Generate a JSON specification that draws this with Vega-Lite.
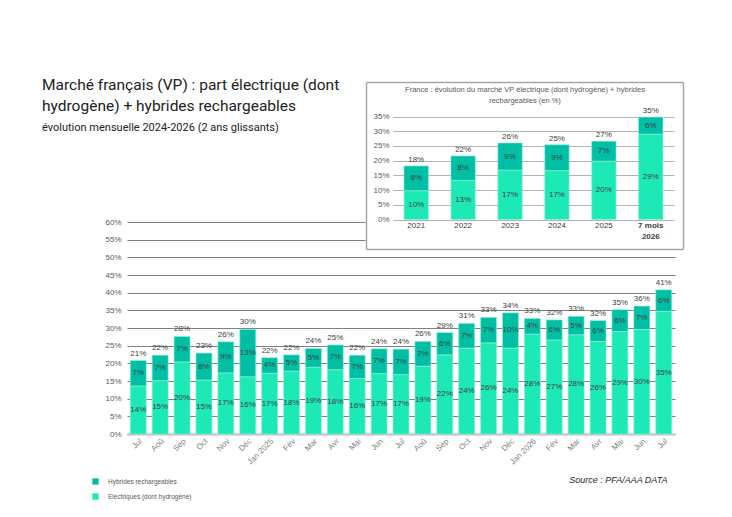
{
  "$schema": "https://vega.github.io/schema/vega-lite/v6.json",
  "width": 548,
  "height": 212,
  "autosize": {"type": "none"},
  "padding": {"left": 127, "top": 222, "right": 57, "bottom": 83},
  "background": "white",
  "title": {
    "text": ["Marché français (VP) : part électrique (dont", "hydrogène) + hybrides rechargeables"],
    "subtitle": "évolution mensuelle 2024-2026 (2 ans glissants)",
    "anchor": "start",
    "frame": "group",
    "dx": -85,
    "dy": 55,
    "font": "Roboto",
    "fontSize": 15.5,
    "fontWeight": "normal",
    "color": "#222222",
    "lineHeight": 21,
    "subtitleFont": "Roboto",
    "subtitleFontSize": 11,
    "subtitleColor": "#222222",
    "subtitlePadding": 8
  },
  "datasets": {
    "mensuel": [
      {"mois": "Jul 2024", "elec": 0.136, "hyb": 0.072},
      {"mois": "Aoû 2024", "elec": 0.151, "hyb": 0.072},
      {"mois": "Sep 2024", "elec": 0.204, "hyb": 0.072},
      {"mois": "Oct 2024", "elec": 0.153, "hyb": 0.076},
      {"mois": "Nov 2024", "elec": 0.173, "hyb": 0.088},
      {"mois": "Déc 2024", "elec": 0.162, "hyb": 0.134},
      {"mois": "Jan 2025", "elec": 0.172, "hyb": 0.044},
      {"mois": "Fév 2025", "elec": 0.178, "hyb": 0.046},
      {"mois": "Mar 2025", "elec": 0.189, "hyb": 0.053},
      {"mois": "Avr 2025", "elec": 0.182, "hyb": 0.07},
      {"mois": "Mai 2025", "elec": 0.157, "hyb": 0.066},
      {"mois": "Jun 2025", "elec": 0.171, "hyb": 0.07},
      {"mois": "Jul 2025", "elec": 0.168, "hyb": 0.072},
      {"mois": "Aoû 2025", "elec": 0.192, "hyb": 0.07},
      {"mois": "Sep 2025", "elec": 0.224, "hyb": 0.063},
      {"mois": "Oct 2025", "elec": 0.243, "hyb": 0.07},
      {"mois": "Nov 2025", "elec": 0.258, "hyb": 0.072},
      {"mois": "Déc 2025", "elec": 0.243, "hyb": 0.1},
      {"mois": "Jan 2026", "elec": 0.283, "hyb": 0.044},
      {"mois": "Fév 2026", "elec": 0.266, "hyb": 0.057},
      {"mois": "Mar 2026", "elec": 0.281, "hyb": 0.052},
      {"mois": "Avr 2026", "elec": 0.262, "hyb": 0.059},
      {"mois": "Mai 2026", "elec": 0.29, "hyb": 0.062},
      {"mois": "Jun 2026", "elec": 0.296, "hyb": 0.066},
      {"mois": "Jul 2026", "elec": 0.347, "hyb": 0.061}
    ],
    "annuel": [
      {"annee": "2021", "elec": 0.098, "hyb": 0.084},
      {"annee": "2022", "elec": 0.133, "hyb": 0.083},
      {"annee": "2023", "elec": 0.168, "hyb": 0.092},
      {"annee": "2024", "elec": 0.166, "hyb": 0.088},
      {"annee": "2025", "elec": 0.198, "hyb": 0.068},
      {"annee": "7 mois 2026", "elec": 0.29, "hyb": 0.058}
    ]
  },
  "layer": [
    {
      "data": {"name": "mensuel"},
      "transform": [{"fold": ["elec", "hyb"], "as": ["serie", "part"]}],
      "encoding": {
        "x": {
          "field": "mois",
          "type": "nominal",
          "sort": null,
          "scale": {
            "domain": ["Jul 2024", "Aoû 2024", "Sep 2024", "Oct 2024", "Nov 2024", "Déc 2024", "Jan 2025", "Fév 2025", "Mar 2025", "Avr 2025", "Mai 2025", "Jun 2025", "Jul 2025", "Aoû 2025", "Sep 2025", "Oct 2025", "Nov 2025", "Déc 2025", "Jan 2026", "Fév 2026", "Mar 2026", "Avr 2026", "Mai 2026", "Jun 2026", "Jul 2026"],
            "paddingInner": 0.27,
            "paddingOuter": 0.15
          },
          "axis": {
            "orient": "bottom",
            "labelExpr": "indexof(datum.value, 'Jan') == 0 ? datum.value : split(datum.value, ' ')[0]",
            "labelAngle": -45,
            "labelAlign": "right",
            "labelBaseline": "top",
            "labelPadding": 3,
            "labelFontSize": 8,
            "labelColor": "#7f7f7f",
            "ticks": false,
            "domainColor": "#bfbfbf",
            "domainWidth": 2,
            "title": "Source : PFA/AAA DATA",
            "titleX": 540,
            "titleY": 41,
            "titleAlign": "right",
            "titleAnchor": null,
            "titleFontSize": 9,
            "titleFontStyle": "italic",
            "titleFontWeight": "normal",
            "titleColor": "#262626"
          }
        }
      },
      "layer": [
        {
          "mark": {"type": "bar", "stroke": "#8ef3da", "strokeWidth": 0.6},
          "encoding": {
            "y": {
              "field": "part",
              "type": "quantitative",
              "stack": "zero",
              "scale": {"domain": [0, 0.6], "nice": false},
              "axis": {"orient": "left", "values": [0, 0.05, 0.1, 0.15, 0.2, 0.25, 0.3, 0.35, 0.4, 0.45, 0.5], "format": ".0%", "labelFontSize": 8, "labelColor": "#595959", "labelPadding": 6, "ticks": false, "domain": false, "grid": true, "gridColor": "#808080", "title": null}
            },
            "color": {
              "field": "serie",
              "type": "nominal",
              "scale": {"domain": ["hyb", "elec"], "range": ["#00bfa5", "#1de9b6"]},
              "legend": {
                "orient": "none",
                "legendX": -35,
                "legendY": 256,
                "title": null,
                "symbolType": "square",
                "symbolSize": 40,
                "symbolStrokeWidth": 0,
                "labelFontSize": 6.5,
                "labelColor": "#595959",
                "labelOffset": 9,
                "rowPadding": 8,
                "labelExpr": "datum.value == 'hyb' ? 'Hybrides rechargeables' : 'Electriques (dont hydrogène)'"
              }
            },
            "order": {"field": "serie", "sort": "ascending"}
          }
        },
        {
          "transform": [
            {"stack": "part", "groupby": ["mois"], "sort": [{"field": "serie", "order": "ascending"}], "as": ["bas", "haut"]},
            {"fold": ["bas", "haut"], "as": ["bord", "pos"]}
          ],
          "mark": {"type": "text", "fontSize": 8, "color": "#404040", "baseline": "middle"},
          "encoding": {
            "y": {
              "aggregate": "mean",
              "field": "pos",
              "type": "quantitative",
              "scale": {"domain": [0, 0.6], "nice": false},
              "axis": {"orient": "left", "values": [0, 0.05, 0.1, 0.15, 0.2, 0.25, 0.3, 0.35, 0.4, 0.45, 0.5], "format": ".0%", "labelFontSize": 8, "labelColor": "#595959", "labelPadding": 6, "ticks": false, "domain": false, "grid": true, "gridColor": "#808080", "title": null}
            },
            "text": {"field": "part", "type": "quantitative", "format": ".0%"},
            "detail": {"field": "serie"}
          }
        },
        {
          "mark": {"type": "text", "fontSize": 8, "color": "#404040", "baseline": "bottom", "dy": -3},
          "encoding": {
            "y": {
              "aggregate": "sum",
              "field": "part",
              "type": "quantitative",
              "scale": {"domain": [0, 0.6], "nice": false},
              "axis": {"orient": "left", "values": [0, 0.05, 0.1, 0.15, 0.2, 0.25, 0.3, 0.35, 0.4, 0.45, 0.5], "format": ".0%", "labelFontSize": 8, "labelColor": "#595959", "labelPadding": 6, "ticks": false, "domain": false, "grid": true, "gridColor": "#808080", "title": null}
            },
            "text": {"aggregate": "sum", "field": "part", "type": "quantitative", "format": ".0%"}
          }
        }
      ]
    },
    {
      "data": {"values": [{}]},
      "mark": {"type": "point", "opacity": 0},
      "encoding": {
        "x": {"datum": 0, "type": "quantitative", "scale": {"domain": [0, 1], "range": [0, 238], "nice": false}, "axis": null},
        "y": {
          "datum": 0.55,
          "type": "quantitative",
          "scale": {"domain": [0, 0.6], "nice": false},
          "axis": {"orient": "left", "values": [0.55, 0.6], "format": ".0%", "labelFontSize": 8, "labelColor": "#595959", "labelPadding": 6, "ticks": false, "domain": false, "grid": true, "gridColor": "#808080", "title": null}
        }
      }
    },
    {
      "data": {"name": "annuel"},
      "transform": [{"fold": ["elec", "hyb"], "as": ["serie", "part"]}],
      "encoding": {
        "x": {
          "field": "annee",
          "type": "nominal",
          "sort": null,
          "scale": {
            "domain": ["2021", "2022", "2023", "2024", "2025", "7 mois 2026"],
            "range": [266, 547],
            "paddingInner": 0.48,
            "paddingOuter": 0.235
          },
          "axis": {
            "orient": "bottom",
            "offset": -214.5,
            "labelAngle": 0,
            "labelExpr": "datum.value == '7 mois 2026' ? ['7 mois', '2026'] : datum.value",
            "labelFontSize": 8,
            "labelColor": "#404040",
            "labelFontWeight": {"condition": {"test": "datum.value == '7 mois 2026'", "value": "bold"}, "value": "normal"},
            "labelLineHeight": 11,
            "labelPadding": 2,
            "ticks": false,
            "domain": false,
            "title": null
          }
        }
      },
      "layer": [
        {
          "mark": {"type": "bar", "stroke": "#8ef3da", "strokeWidth": 0.6},
          "encoding": {
            "y": {
              "field": "part",
              "type": "quantitative",
              "stack": "zero",
              "scale": {"domain": [0, 0.35], "range": [-2.5, -105.5], "nice": false},
              "axis": {"orient": "left", "offset": -266, "values": [0, 0.05, 0.1, 0.15, 0.2, 0.25, 0.3, 0.35], "format": ".0%", "labelFontSize": 8, "labelColor": "#595959", "labelPadding": 4, "ticks": false, "domain": false, "grid": true, "gridColor": "#b3b3b3", "title": null}
            },
            "color": {"field": "serie", "type": "nominal", "scale": {"domain": ["hyb", "elec"], "range": ["#00bfa5", "#1de9b6"]}},
            "order": {"field": "serie", "sort": "ascending"}
          }
        },
        {
          "transform": [
            {"stack": "part", "groupby": ["annee"], "sort": [{"field": "serie", "order": "ascending"}], "as": ["bas", "haut"]},
            {"fold": ["bas", "haut"], "as": ["bord", "pos"]}
          ],
          "mark": {"type": "text", "fontSize": 8, "color": "#404040", "baseline": "middle"},
          "encoding": {
            "y": {
              "aggregate": "mean",
              "field": "pos",
              "type": "quantitative",
              "scale": {"domain": [0, 0.35], "range": [-2.5, -105.5], "nice": false},
              "axis": {"orient": "left", "offset": -266, "values": [0, 0.05, 0.1, 0.15, 0.2, 0.25, 0.3, 0.35], "format": ".0%", "labelFontSize": 8, "labelColor": "#595959", "labelPadding": 4, "ticks": false, "domain": false, "grid": true, "gridColor": "#b3b3b3", "title": null}
            },
            "text": {"field": "part", "type": "quantitative", "format": ".0%"},
            "detail": {"field": "serie"}
          }
        },
        {
          "mark": {"type": "text", "fontSize": 8, "color": "#404040", "baseline": "bottom", "dy": -2},
          "encoding": {
            "y": {
              "aggregate": "sum",
              "field": "part",
              "type": "quantitative",
              "scale": {"domain": [0, 0.35], "range": [-2.5, -105.5], "nice": false},
              "axis": {"orient": "left", "offset": -266, "values": [0, 0.05, 0.1, 0.15, 0.2, 0.25, 0.3, 0.35], "format": ".0%", "labelFontSize": 8, "labelColor": "#595959", "labelPadding": 4, "ticks": false, "domain": false, "grid": true, "gridColor": "#b3b3b3", "title": null}
            },
            "text": {"aggregate": "sum", "field": "part", "type": "quantitative", "format": ".0%"}
          }
        }
      ]
    },
    {
      "data": {"values": [{}]},
      "mark": {"type": "point", "opacity": 0},
      "encoding": {
        "x": {
          "datum": 0,
          "type": "quantitative",
          "scale": {"domain": [0, 1], "range": [239, 556], "nice": false},
          "axis": {
            "orient": "top",
            "offset": 140,
            "values": [0, 1],
            "labels": false,
            "ticks": false,
            "domain": false,
            "grid": true,
            "gridColor": "#a6a6a6",
            "gridWidth": 1.5,
            "title": ["France : évolution du marché VP électrique (dont hydrogène) + hybrides", "rechargeables (en %)"],
            "titleY": 3,
            "titleBaseline": "top",
            "titleFontSize": 7.5,
            "titleFontWeight": "normal",
            "titleColor": "#595959",
            "titleLineHeight": 11
          }
        },
        "y": {
          "datum": 0,
          "type": "quantitative",
          "scale": {"domain": [0, 1], "range": [27, -140], "nice": false},
          "axis": {"orient": "left", "values": [0, 1], "labels": false, "ticks": false, "domain": false, "grid": true, "gridColor": "#a6a6a6", "gridWidth": 1.5, "title": null}
        }
      }
    }
  ],
  "resolve": {"scale": {"x": "independent", "y": "independent", "color": "shared"}},
  "config": {
    "view": {"stroke": null},
    "font": "Liberation Sans",
    "axis": {"labelFont": "Liberation Sans", "titleFont": "Liberation Sans"},
    "legend": {"labelFont": "Liberation Sans"},
    "text": {"font": "Liberation Sans"}
  }
}
